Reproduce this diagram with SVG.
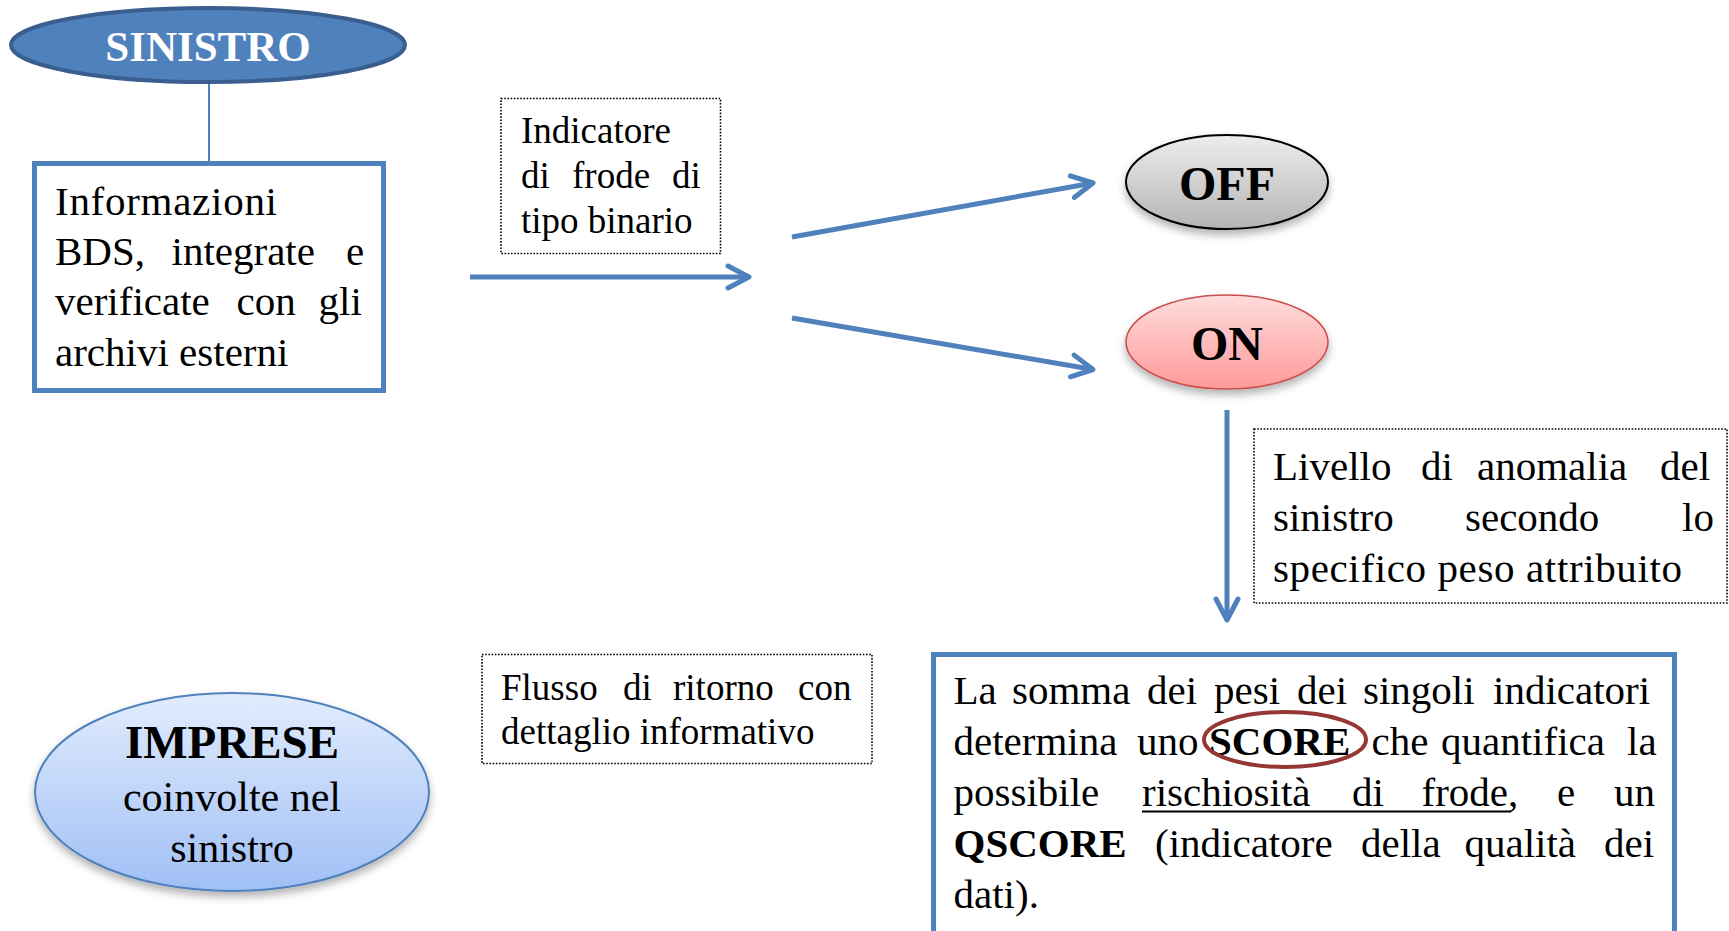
<svg xmlns="http://www.w3.org/2000/svg" width="1729" height="931" viewBox="0 0 1729 931">
<style>
.t{font-family:"Liberation Serif","Times New Roman",serif;font-size:41px;fill:#000}
.s{font-size:37px}
.b{font-weight:bold}
.blue{stroke:#4f81bd;fill:none}
.conn{stroke:#4f81bd;stroke-width:5;fill:none;marker-end:url(#ah)}
.dot{fill:#fff;stroke:#000;stroke-width:1.6;stroke-dasharray:1.6 1.6}
</style>
<defs>
<marker id="ah" markerUnits="userSpaceOnUse" markerWidth="40" markerHeight="40" viewBox="-30 -20 40 40" refX="0" refY="0" orient="auto">
<path d="M-21,-11 L0,0 L-21,11" fill="none" stroke="#4f81bd" stroke-width="5" stroke-linecap="round" stroke-linejoin="round"/>
</marker>
<linearGradient id="gOff" x1="0" y1="0" x2="0" y2="1"><stop offset="0" stop-color="#ededed"/><stop offset="1" stop-color="#b4b4b4"/></linearGradient>
<linearGradient id="gOn" x1="0" y1="0" x2="0" y2="1"><stop offset="0" stop-color="#ffdcdc"/><stop offset="1" stop-color="#ff9a9a"/></linearGradient>
<linearGradient id="gImp" x1="0" y1="0" x2="0" y2="1"><stop offset="0" stop-color="#e2ecfd"/><stop offset="1" stop-color="#9fbff5"/></linearGradient>
<filter id="sh" x="-20%" y="-20%" width="140%" height="150%"><feDropShadow dx="0" dy="5" stdDeviation="4" flood-color="#000" flood-opacity="0.3"/></filter>
</defs>
<rect width="1729" height="931" fill="#fff"/>

<g id="connectors">
<line x1="209" y1="83" x2="209" y2="161" stroke="#4f81bd" stroke-width="2"/>
<line class="conn" x1="470" y1="277" x2="749" y2="277"/>
<line class="conn" x1="792" y1="237" x2="1093" y2="183"/>
<line class="conn" x1="792" y1="318" x2="1093" y2="369.5"/>
<line class="conn" x1="1227" y1="410" x2="1227" y2="620"/>
<line class="conn" x1="877" y1="793" x2="487" y2="793" filter="url(#sh)"/>
</g>

<g id="sinistro">
<ellipse cx="208" cy="45" rx="197" ry="37" fill="#4f81bd" stroke="#3a5f8e" stroke-width="4"/>
<text class="t b" x="208" y="61" text-anchor="middle" font-size="43" fill="#fff" style="font-size:43px;fill:#fff">SINISTRO</text>
</g>

<g id="info-bds">
<rect x="34.5" y="163.5" width="349" height="227" fill="#fff" stroke="#4f81bd" stroke-width="5"/>
<text class="t"><tspan x="55" y="215" textLength="222" lengthAdjust="spacing">Informazioni</tspan></text>
<text class="t" y="265"><tspan x="55">BDS,</tspan><tspan x="171.5">integrate</tspan><tspan x="346">e</tspan></text>
<text class="t" y="315"><tspan x="55">verificate</tspan><tspan x="236.5">con</tspan><tspan x="318.5">gli</tspan></text>
<text class="t" x="55" y="366">archivi esterni</text>
</g>

<g id="label-binario">
<rect class="dot" x="501" y="98.5" width="219.5" height="155"/>
<text class="t s" x="521" y="143">Indicatore</text>
<text class="t s" y="188"><tspan x="521">di</tspan><tspan x="572">frode</tspan><tspan x="672">di</tspan></text>
<text class="t s" x="521" y="233">tipo binario</text>
</g>

<g id="off">
<ellipse cx="1227" cy="182" rx="101" ry="47" fill="url(#gOff)" stroke="#000" stroke-width="2" filter="url(#sh)"/>
<text class="t b" x="1227" y="200" text-anchor="middle" style="font-size:48px">OFF</text>
</g>

<g id="on">
<ellipse cx="1227" cy="342" rx="101" ry="47" fill="url(#gOn)" stroke="#c9504d" stroke-width="1.6" filter="url(#sh)"/>
<text class="t b" x="1227" y="360" text-anchor="middle" style="font-size:48px">ON</text>
</g>

<g id="label-livello">
<rect class="dot" x="1254" y="429" width="473" height="174"/>
<text class="t" y="480"><tspan x="1273">Livello</tspan><tspan x="1421">di</tspan><tspan x="1477">anomalia</tspan><tspan x="1660">del</tspan></text>
<text class="t" y="531"><tspan x="1273">sinistro</tspan><tspan x="1465">secondo</tspan><tspan x="1682">lo</tspan></text>
<text class="t" x="1273" y="582" textLength="409" lengthAdjust="spacing">specifico peso attribuito</text>
</g>

<g id="score">
<rect x="933.5" y="654.5" width="741" height="300" fill="#fff" stroke="#4f81bd" stroke-width="5"/>
<text class="t" y="704"><tspan x="953.5">La</tspan><tspan x="1012">somma</tspan><tspan x="1147">dei</tspan><tspan x="1214">pesi</tspan><tspan x="1297">dei</tspan><tspan x="1363">singoli</tspan><tspan x="1493">indicatori</tspan></text>
<text class="t" y="755"><tspan x="953.5">determina</tspan><tspan x="1137">uno</tspan><tspan x="1209" font-weight="bold">SCORE</tspan><tspan x="1371.5">che</tspan><tspan x="1441">quantifica</tspan><tspan x="1627">la</tspan></text>
<ellipse cx="1285" cy="739.5" rx="81" ry="27.5" fill="none" stroke="#953735" stroke-width="4"/>
<text class="t" y="806"><tspan x="953.5">possibile</tspan><tspan x="1142">rischiosità</tspan><tspan x="1352">di</tspan><tspan x="1421.5">frode,</tspan><tspan x="1557">e</tspan><tspan x="1614">un</tspan></text>
<line x1="1142" y1="811.5" x2="1511" y2="811.5" stroke="#000" stroke-width="2"/>
<text class="t" y="857"><tspan x="953.5" font-weight="bold">QSCORE</tspan><tspan x="1155">(indicatore</tspan><tspan x="1361">della</tspan><tspan x="1464.5">qualità</tspan><tspan x="1604">dei</tspan></text>
<text class="t" x="953.5" y="908">dati).</text>
</g>

<g id="label-flusso">
<rect class="dot" x="482" y="654.5" width="390" height="109"/>
<text class="t s" y="700"><tspan x="501">Flusso</tspan><tspan x="623">di</tspan><tspan x="673">ritorno</tspan><tspan x="798">con</tspan></text>
<text class="t s" x="501" y="744">dettaglio informativo</text>
</g>

<g id="imprese">
<ellipse cx="232" cy="792" rx="197" ry="99" fill="url(#gImp)" stroke="#4f81bd" stroke-width="2" filter="url(#sh)"/>
<text class="t b" x="232" y="758" text-anchor="middle" style="font-size:47px">IMPRESE</text>
<text class="t" x="232" y="811" text-anchor="middle" style="font-size:42px">coinvolte nel</text>
<text class="t" x="232" y="862" text-anchor="middle" style="font-size:42px">sinistro</text>
</g>
</svg>
